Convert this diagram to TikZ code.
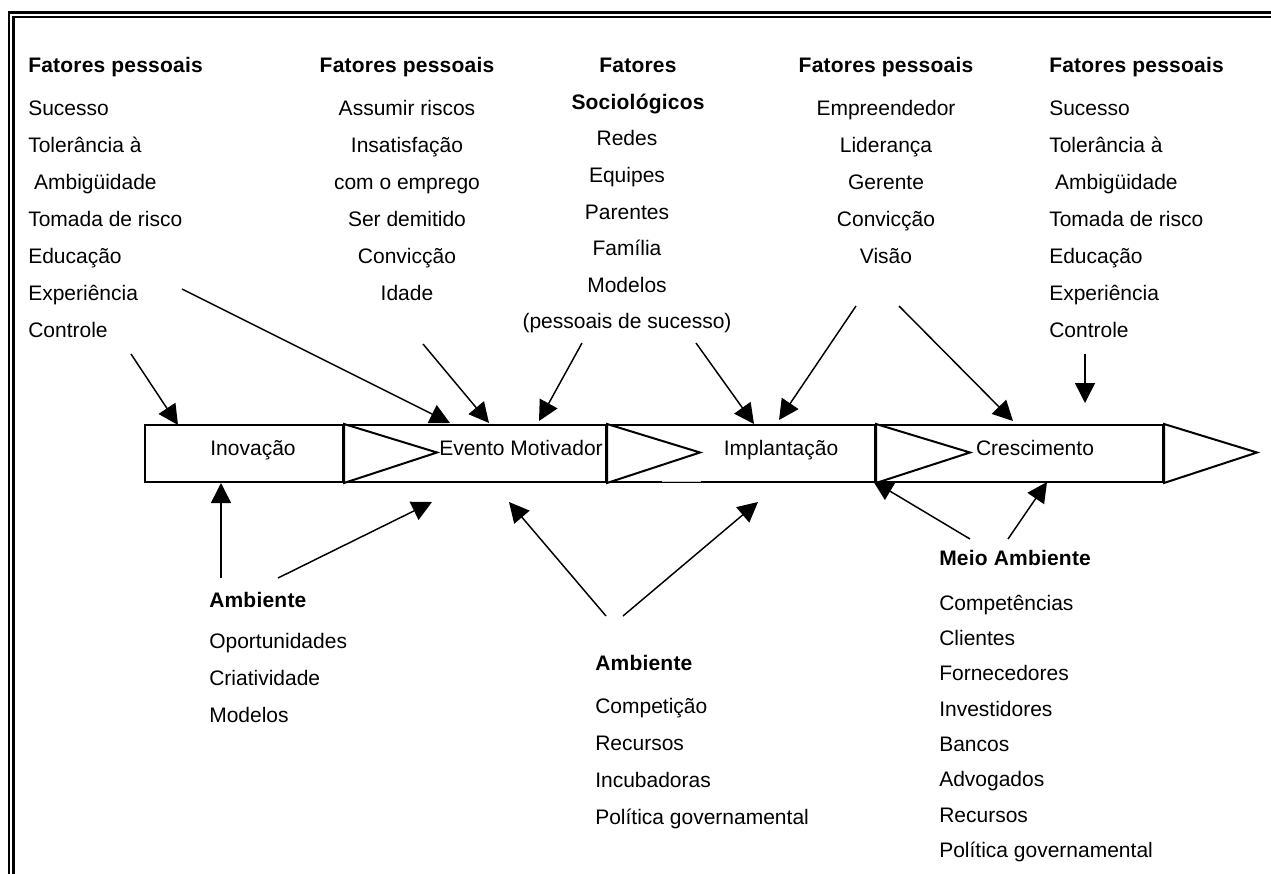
\documentclass[tikz,border=0pt]{standalone}
\usepackage{fontspec}
\setmainfont{Liberation Sans}
\newfontfamily\headfont{Liberation Sans}[LetterSpace=1.0]
\usetikzlibrary{arrows.meta,calc}

\begin{document}
\begin{tikzpicture}[x=0.75pt,y=-0.75pt,
  body/.style={font=\fontsize{15.75}{18}\selectfont, inner sep=0pt},
  head/.style={font=\fontsize{15.75}{18}\headfont\bfseries, inner sep=0pt},
  stage/.style={draw, line width=1.5pt, minimum height=42.75pt, inner sep=0pt, anchor=north west},
  chev/.style={draw, line width=1.5pt, fill=white, line join=miter},
  feed/.style={-{Triangle[length=15pt,width=15pt]}, line width=1.1pt},
  frame/.style={line width=1.8pt}]

\useasboundingbox (0,0) rectangle (1271,874);

% double frame along the top and left edges
\draw[frame] (1271,12.5) -- (8.7,12.5) -- (8.7,874);
\draw[frame] (1271,17.3) -- (13.5,17.3) -- (13.5,874);

% process band
\node[stage, minimum width=148.5pt]  (inov)   at (144,424) {};
\node[stage, minimum width=197.25pt] (evento) at (342,424) {};
\node[stage, minimum width=201.75pt] (impl)   at (605,424) {};
\node[stage, minimum width=216pt]    (cresc)  at (874,424) {};
\draw[chev] (inov.north east) -- (437,452.5) -- (inov.south east) -- cycle;
\draw[chev] (evento.north east) -- (700,452.5) -- (evento.south east) -- cycle;
\draw[chev] (impl.north east) -- (970,452.5) -- (impl.south east) -- cycle;
\draw[chev] (cresc.north east) -- (1257,452.5) -- (cresc.south east) -- cycle;
\draw[white, line width=1.6pt] (662,481) -- (701,481);
\draw[gray!45, line width=0.5pt] (662,481.6) -- (701,481.6);

\node[body, anchor=base] (l-inov)   at (253,455) {Inovação};
\node[body, anchor=base] (l-evento) at (521,455) {Evento Motivador};
\node[body, anchor=base] (l-impl)   at (781,455) {Implantação};
\node[body, anchor=base] (l-cresc)  at (1035,455) {Crescimento};

% upper factor lists
\node[head, anchor=base west] (pa-h) at (28,72.5) {Fatores pessoais};
\foreach \t [count=\i] in {Sucesso,Tolerância à,\ Ambigüidade,Tomada de risco,Educação,Experiência,Controle}
  \node[body, anchor=base west] (pa-\i) at (28,78.5+37*\i) {\t};

\node[head, anchor=base] (pb-h) at (407,72.5) {Fatores pessoais};
\foreach \t [count=\i] in {Assumir riscos,Insatisfação,com o emprego,Ser demitido,Convicção,Idade}
  \node[body, anchor=base] (pb-\i) at (407,78.5+37*\i) {\t};

\node[head, anchor=base] (sc-h1) at (638,73) {Fatores};
\node[head, anchor=base] (sc-h2) at (638,109.5) {Sociológicos};
\foreach \t [count=\i] in {Redes,Equipes,Parentes,Família,Modelos,(pessoais de sucesso)}
  \node[body, anchor=base] (sc-\i) at (627,109.5+36.5*\i) {\t};

\node[head, anchor=base] (pc-h) at (886,72.5) {Fatores pessoais};
\foreach \t [count=\i] in {Empreendedor,Liderança,Gerente,Convicção,Visão}
  \node[body, anchor=base] (pc-\i) at (886,78.5+37*\i) {\t};

\node[head, anchor=base west] (pd-h) at (1049,72.5) {Fatores pessoais};
\foreach \t [count=\i] in {Sucesso,Tolerância à,\ Ambigüidade,Tomada de risco,Educação,Experiência,Controle}
  \node[body, anchor=base west] (pd-\i) at (1049,78.5+37*\i) {\t};

% lower environment lists
\node[head, anchor=base west] (ea-h) at (209,607) {Ambiente};
\foreach \t [count=\i] in {Oportunidades,Criatividade,Modelos}
  \node[body, anchor=base west] (ea-\i) at (209,611+37*\i) {\t};

\node[head, anchor=base west] (eb-h) at (595,670) {Ambiente};
\foreach \t [count=\i] in {Competição,Recursos,Incubadoras,Política governamental}
  \node[body, anchor=base west] (eb-\i) at (595,676+37*\i) {\t};

\node[head, anchor=base west] (ec-h) at (939,565) {Meio Ambiente};
\foreach \t [count=\i] in {Competências,Clientes,Fornecedores,Investidores,Bancos,Advogados,Recursos,Política governamental}
  \node[body, anchor=base west] (ec-\i) at (939,575+35.3*\i) {\t};

% connector end points
\coordinate (s1) at (131,354);  \coordinate (t1) at (178,425);
\coordinate (s2) at (182,289);  \coordinate (t2) at (450,423);
\coordinate (s3) at (423,344);  \coordinate (t3) at (489,423);
\coordinate (s4) at (582,343);  \coordinate (t4) at (539,421);
\coordinate (s5) at (696,343);  \coordinate (t5) at (754,424);
\coordinate (s6) at (856,306);  \coordinate (t6) at (779,420);
\coordinate (s7) at (899,306);  \coordinate (t7) at (1013,421);
\coordinate (s8) at (1085,354); \coordinate (t8) at (1085,403);
\coordinate (s9) at (221,578);  \coordinate (t9) at (221,483);
\coordinate (s10) at (278,578); \coordinate (t10) at (432,502);
\coordinate (s11) at (606,616); \coordinate (t11) at (509,502);
\coordinate (s12) at (623,616); \coordinate (t12) at (758,502);
\coordinate (s13) at (970,539); \coordinate (t13) at (873,481);
\coordinate (s14) at (1008,539);\coordinate (t14) at (1047,482);

\foreach \k in {1,...,14}
  \draw[feed] (s\k) -- (t\k);

\end{tikzpicture}
\end{document}
